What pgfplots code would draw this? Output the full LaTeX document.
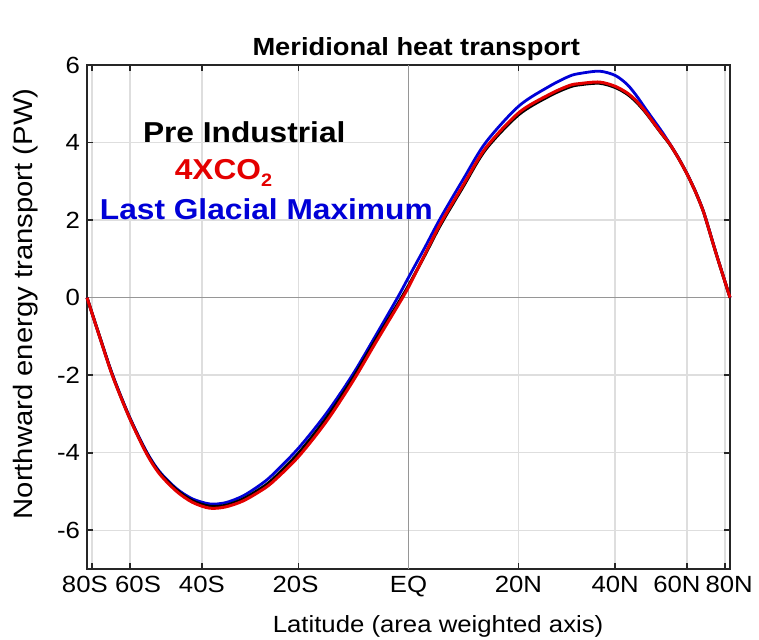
\documentclass[border=0pt]{standalone}
\usepackage{fontspec}
\setmainfont[FakeStretch=1.1]{Liberation Sans}
\usepackage{pgfplots}
\usepackage{pgfplotstable}
\pgfplotsset{compat=1.18}
\definecolor{mblue}{RGB}{0,0,215}
\definecolor{mred}{RGB}{228,0,0}
\definecolor{gridc}{RGB}{222,222,222}
\definecolor{zeroc}{RGB}{150,150,150}
\definecolor{axc}{RGB}{38,38,38}

\pgfplotstableread{
x y
-1.000 0.00
-0.960 -1.02
-0.920 -2.00
-0.868 -3.07
-0.815 -3.97
-0.774 -4.49
-0.721 -4.93
-0.672 -5.19
-0.619 -5.32
-0.570 -5.29
-0.516 -5.12
-0.463 -4.84
-0.423 -4.57
-0.342 -3.88
-0.255 -2.98
-0.174 -1.99
-0.100 -0.95
-0.034 0.00
0.000 0.52
0.050 1.28
0.100 2.06
0.170 3.05
0.240 4.00
0.343 4.94
0.438 5.45
0.500 5.71
0.532 5.78
0.594 5.84
0.643 5.73
0.680 5.50
0.708 5.22
0.735 4.90
0.759 4.62
0.785 4.32
0.812 3.98
0.840 3.60
0.868 3.17
0.893 2.73
0.915 2.28
0.930 1.89
0.957 1.14
1.000 0.00
}\lgm

\pgfplotstableread{
x y
-1.000 0.00
-0.960 -1.02
-0.920 -2.02
-0.868 -3.09
-0.815 -4.00
-0.774 -4.52
-0.721 -4.96
-0.672 -5.24
-0.619 -5.38
-0.570 -5.36
-0.516 -5.20
-0.463 -4.94
-0.423 -4.69
-0.342 -4.01
-0.255 -3.10
-0.174 -2.09
-0.100 -1.06
-0.034 -0.17
0.000 0.31
0.050 1.08
0.100 1.88
0.170 2.86
0.240 3.82
0.343 4.72
0.438 5.20
0.500 5.43
0.532 5.49
0.594 5.53
0.643 5.42
0.680 5.25
0.708 5.05
0.735 4.80
0.759 4.54
0.785 4.25
0.812 3.96
0.840 3.59
0.868 3.16
0.893 2.72
0.915 2.27
0.930 1.88
0.957 1.13
1.000 0.00
}\pind

\pgfplotstableread{
x y
-1.000 0.00
-0.960 -1.03
-0.920 -2.03
-0.868 -3.10
-0.815 -4.02
-0.774 -4.55
-0.721 -5.00
-0.672 -5.28
-0.619 -5.43
-0.570 -5.40
-0.516 -5.25
-0.463 -5.00
-0.423 -4.76
-0.342 -4.10
-0.255 -3.19
-0.174 -2.17
-0.100 -1.13
-0.034 -0.22
0.000 0.27
0.050 1.10
0.100 1.92
0.170 2.90
0.240 3.86
0.343 4.77
0.438 5.24
0.500 5.47
0.532 5.52
0.594 5.56
0.643 5.45
0.680 5.28
0.708 5.08
0.735 4.82
0.759 4.55
0.785 4.26
0.812 3.97
0.840 3.59
0.868 3.16
0.893 2.72
0.915 2.27
0.930 1.88
0.957 1.13
1.000 0.00
}\fourco

\begin{document}
\begin{tikzpicture}
\path[use as bounding box] (-43.5pt,-35pt) rectangle (336pt,284.5pt);
\begin{axis}[
  at={(0,0)}, anchor=south west,
  scale only axis, width=321.5pt, height=252pt,
  xmin=-1, xmax=1, ymin=-7, ymax=6,
  xtick={-0.98481,-0.86603,-0.64279,-0.34202,0,0.34202,0.64279,0.86603,0.98481},
  xticklabels={80S\hspace*{7pt},\hspace*{8pt}60S,40S,20S\hspace*{3pt},EQ,20N,40N,60N\hspace*{10pt},\hspace*{4pt}80N},
  ytick={-6,-4,-2,0,2,4,6},
  yticklabels={-6,-4,-2,0,2,4,6},
  tick align=inside,
  major tick length=3pt,
  grid=major,
  grid style={gridc, line width=0.7pt},
  axis line style={axc, line width=0.9pt},
  tick style={axc, line width=0.8pt},
  ticklabel style={font=\fontsize{11.7}{13}\selectfont, text=black},
  title={\bfseries Meridional heat transport},
  title style={font=\fontsize{12.4}{14}\selectfont, at={(axis description cs:0.512,0.996)}, anchor=base},
  xlabel={Latitude (area weighted axis)},
  ylabel={Northward energy transport (PW)},
  xlabel style={font=\fontsize{11.7}{13}\selectfont, at={(axis description cs:0.546,-0.125)}, anchor=base},
  ylabel style={font=\fontsize{13.3}{15}\selectfont, at={(axis description cs:-0.084,0.526)}, anchor=base},
  clip=false,
]
\addplot[zeroc, line width=0.8pt, forget plot] coordinates {(-1,0) (1,0)};
\addplot[zeroc, line width=0.8pt, forget plot] coordinates {(0,-7) (0,6)};
\addplot[mblue, line width=1.4pt, smooth] table[x=x,y=y] {\lgm};
\addplot[black, line width=1.5pt, smooth] table[x=x,y=y] {\pind};
\addplot[mred, line width=1.5pt, smooth] table[x=x,y=y] {\fourco};
\node[anchor=base west, inner sep=0pt, font=\bfseries\fontsize{14.4}{16}\selectfont, text=black] at (axis cs:-0.827,4.0) {Pre Industrial};
\node[anchor=base west, inner sep=0pt, font=\bfseries\fontsize{14.4}{16}\selectfont, text=mred] at (axis cs:-0.728,3.05) {4XCO\raisebox{-0.45ex}{\fontsize{9}{9}\selectfont 2}};
\node[anchor=base west, inner sep=0pt, font=\bfseries\fontsize{14.4}{16}\selectfont, text=mblue] at (axis cs:-0.961,2.01) {Last Glacial Maximum};
\end{axis}
\end{tikzpicture}
\end{document}
